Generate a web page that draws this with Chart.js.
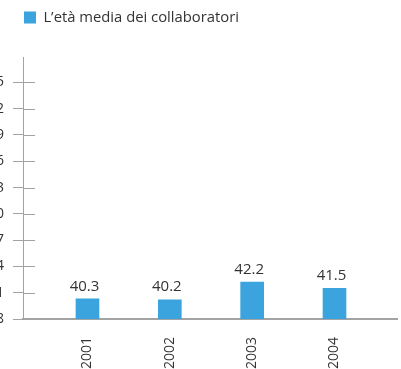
<!DOCTYPE html>
<html>
<head>
<meta charset="utf-8">
<script src="https://cdn.jsdelivr.net/npm/chart.js@4"></script>
<style>
  html, body { margin: 0; padding: 0; background: #fff; overflow: hidden; }
  #wrap { position: absolute; left: -30px; top: 0; width: 431px; height: 369px; }
</style>
</head>
<body>
<div id="wrap"><canvas id="ageChart"></canvas></div>
<script>
// Dati: età media per anno
const years = [2001, 2002, 2003, 2004];
const avgAge = [40.3, 40.2, 42.2, 41.5];
const seriesLabel = 'L’età media dei collaboratori';
const yTicks = [38, 41, 44, 47, 50, 53, 56, 59, 62, 65];

const barColor = '#3ba3dd';
const axisColor = '#a3a3a3';
const textColor = '#333333';
const fontFamily = '"Open Sans", "DejaVu Sans", sans-serif';

// Legenda: spazio extra sotto e spostamento a destra
const legendShift = {
    id: 'legendShift',
    beforeLayout(chart) {
        const lg = chart.legend;
        if (lg && !lg._gapPatched) {
            const fit = lg.fit;
            lg.fit = function() {
                fit.call(this);
                this.height += 23;
            };
            lg._gapPatched = true;
        }
    },
    afterLayout(chart) {
        chart.legend.left += 44;
        chart.legend.right += 44;
    }
};

// Tacche dell'asse Y che attraversano la linea (parte interna all'area del grafico)
const innerTicks = {
    id: 'innerTicks',
    afterDraw(chart) {
        const y = chart.scales.y;
        const ctx = chart.ctx;
        ctx.save();
        ctx.strokeStyle = axisColor;
        ctx.lineWidth = 1;
        y.ticks.forEach((t, i) => {
            const py = Math.round(y.getPixelForTick(i)) + 0.5;
            ctx.beginPath();
            ctx.moveTo(y.right, py);
            ctx.lineTo(y.right + 12, py);
            ctx.stroke();
        });
        ctx.restore();
    }
};

// Valori sopra le barre
const valueLabels = {
    id: 'valueLabels',
    afterDatasetsDraw(chart) {
        const ctx = chart.ctx;
        const meta = chart.getDatasetMeta(0);
        ctx.save();
        ctx.font = '15px ' + fontFamily;
        ctx.fillStyle = textColor;
        ctx.textAlign = 'center';
        ctx.textBaseline = 'bottom';
        meta.data.forEach((bar, i) => {
            ctx.fillText(avgAge[i].toFixed(1), bar.x - 3, bar.y - 5);
        });
        ctx.restore();
    }
};

new Chart(document.getElementById('ageChart'), {
    type: 'bar',
    data: {
        datasets: [{
            label: seriesLabel,
            data: years.map((yr, i) => ({ x: yr, y: avgAge[i] })),
            backgroundColor: barColor,
            borderWidth: 0,
            barThickness: 23
        }]
    },
    options: {
        responsive: true,
        maintainAspectRatio: false,
        animation: false,
        layout: { padding: { left: 0, right: 4, top: 0, bottom: 0 } },
        plugins: {
            legend: {
                display: true,
                align: 'start',
                labels: {
                    color: textColor,
                    font: { family: fontFamily, size: 14.8 },
                    boxWidth: 12,
                    boxHeight: 12,
                    padding: 10
                }
            },
            tooltip: { enabled: false }
        },
        scales: {
            x: {
                type: 'linear',
                offset: false,
                min: 2000.217,
                max: 2004.759,
                grid: { display: false, drawTicks: false },
                border: { display: true, color: axisColor, width: 2 },
                ticks: {
                    stepSize: 1,
                    includeBounds: false,
                    minRotation: 90,
                    maxRotation: 90,
                    padding: 18,
                    color: textColor,
                    font: { family: fontFamily, size: 14 },
                    callback: v => String(v)
                },
                afterBuildTicks: s => { s.ticks = years.map(v => ({ value: v })); },
                afterFit: s => { s.height = 50; }
            },
            y: {
                min: 38,
                max: 67.8,
                grid: { drawOnChartArea: false, drawTicks: true, tickLength: 10, color: axisColor },
                border: { display: true, color: axisColor, width: 1 },
                ticks: {
                    padding: 9,
                    color: textColor,
                    font: { family: fontFamily, size: 14 },
                    autoSkip: false,
                    callback: v => String(v)
                },
                afterBuildTicks: s => { s.ticks = yTicks.map(v => ({ value: v })); },
                afterFit: s => { s.width = 53; }
            }
        }
    },
    plugins: [legendShift, innerTicks, valueLabels]
});
</script>
</body>
</html>
